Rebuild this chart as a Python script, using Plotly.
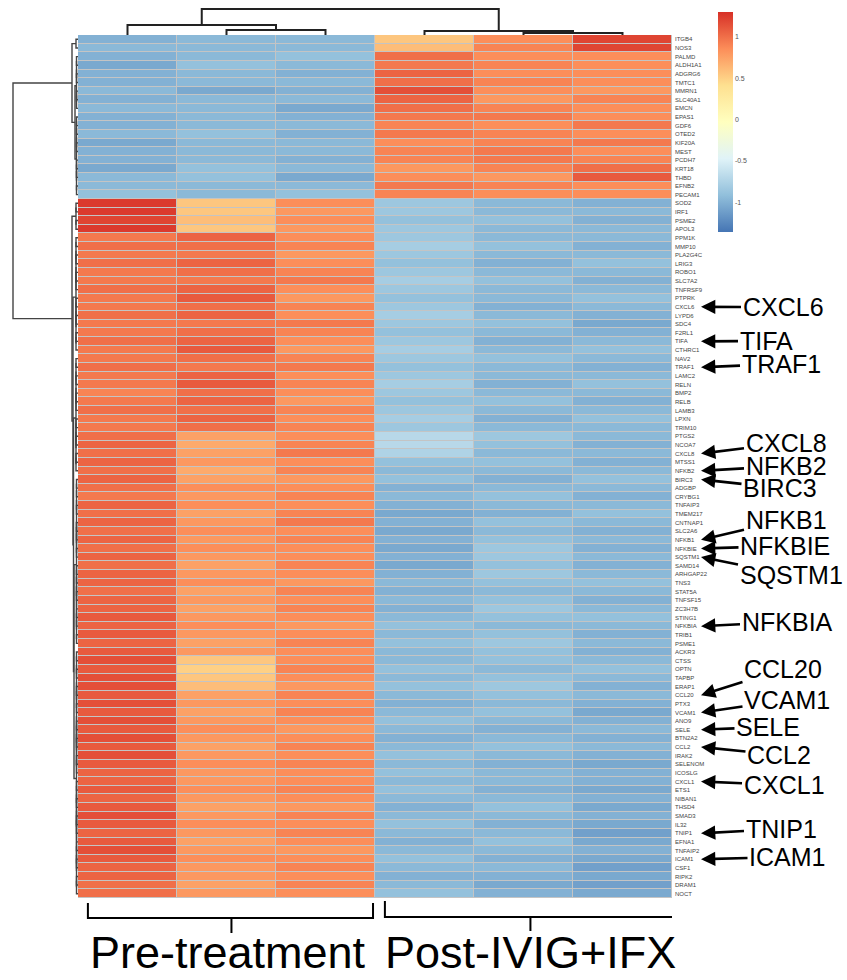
import plotly.graph_objects as go

W, H = 847, 980

genes = ["ITGB4","NOS3","PALMD","ALDH1A1","ADGRG6","TMTC1","MMRN1","SLC40A1","EMCN","EPAS1",
         "GDF6","OTED2","KIF20A","MEST","PCDH7","KRT18","THBD","EFNB2","PECAM1",
         "SOD2","IRF1","PSME2","APOL3","PPM1K","MMP10","PLA2G4C","LRIG3","ROBO1","SLC7A2",
         "TNFRSF9","PTPRK","CXCL6","LYPD6","SDC4","F2RL1","TIFA","CTHRC1","NAV2","TRAF1",
         "LAMC2","RELN","BMP2","RELB","LAMB3","LPXN","TRIM10","PTGS2","NCOA7","CXCL8",
         "MTSS1","NFKB2","BIRC3","ADGBP","CRYBG1","TNFAIP3","TMEM217","CNTNAP1","SLC2A6","NFKB1",
         "NFKBIE","SQSTM1","SAMD14","ARHGAP22","TNS3","STAT5A","TNFSF15","ZC3H7B","STING1","NFKBIA",
         "TRIB1","PSME1","ACKR3","CTSS","OPTN","TAPBP","ERAP1","CCL20","PTX3","VCAM1",
         "ANO9","SELE","BTN2A2","CCL2","IRAK2","SELENOM","ICOSLG","CXCL1","ETS1","NIBAN1",
         "THSD4","SMAD3","IL32","TNIP1","EFNA1","TNFAIP2","ICAM1","CSF1","RIPK2","DRAM1","NOCT"]

samples = ["Pre1", "Pre2", "Pre3", "Post1", "Post2", "Post3"]

pre1 = [-1.0,-0.95,-1.0,-1.05,-1.0,-1.0,-0.95,-1.0,-0.95,-1.0,-1.0,-0.95,-1.05,-1.0,-1.0,-1.05,-0.95,-0.95,-0.9,
        1.25,1.25,1.2,1.25,
        0.95,1.0,0.95,1.0,0.95,0.95,1.0,0.95,0.95,1.0,0.95,0.95,1.0,0.95,0.95,1.0,0.95,0.95,0.9,0.95,1.0,0.95,0.95,
        1.0,1.05,1.0,1.05,1.0,1.05,1.0,0.95,1.05,1.0,1.05,1.0,1.05,1.0,
        1.05,1.0,1.05,1.05,1.0,1.05,1.05,1.1,1.05,1.1,1.05,1.1,
        1.15,1.1,1.15,1.15,1.1,1.15,1.1,1.15,1.1,1.15,1.1,1.15,1.1,1.05,
        1.05,1.1,1.05,1.1,1.15,1.1,1.05,1.1,1.15,1.1,1.05,1.05,1.0,1.0]
pre2 = [-0.95,-0.95,-0.95,-0.9,-0.95,-0.95,-1.05,-0.95,-0.95,-0.95,-0.95,-0.9,-0.95,-0.95,-0.95,-0.9,-0.9,-0.95,-0.95,
        0.55,0.55,0.6,0.55,
        1.05,1.0,0.95,1.05,1.0,0.95,1.05,1.1,1.0,1.05,0.95,1.0,1.05,1.1,1.0,0.95,1.05,1.1,1.0,1.05,1.0,1.05,1.0,
        0.75,0.7,0.75,0.8,0.7,0.75,0.85,0.8,0.85,0.75,0.8,0.85,0.8,0.85,
        0.8,0.75,0.8,0.85,0.75,0.8,0.75,0.8,0.85,0.8,0.75,0.8,
        0.55,0.5,0.55,0.6,0.75,0.8,0.75,0.8,0.85,0.8,0.75,0.8,0.85,0.8,
        0.8,0.85,0.8,0.75,0.8,0.85,0.8,0.75,0.8,0.85,0.8,0.8,0.75,0.8]
pre3 = [-0.95,-0.95,-0.9,-0.95,-1.0,-0.95,-1.0,-0.95,-1.05,-1.0,-0.95,-1.0,-0.95,-0.95,-1.0,-0.95,-1.05,-0.95,-0.9,
        0.85,0.8,0.85,0.8,
        0.85,0.9,0.8,0.85,0.9,0.95,0.85,0.8,0.9,0.85,0.95,0.9,0.85,0.8,0.9,0.95,0.85,0.9,0.85,0.8,0.9,0.85,0.9,
        0.85,0.9,0.95,0.85,0.9,0.8,0.85,0.9,0.85,0.9,0.95,0.85,0.9,0.85,
        0.85,0.9,0.85,0.8,0.9,0.85,0.9,0.85,0.8,0.85,0.9,0.85,
        0.85,0.9,0.85,0.8,0.9,0.85,0.9,0.85,0.8,0.85,0.9,0.85,0.9,0.85,
        0.85,0.9,0.85,0.8,0.9,0.85,0.9,0.85,0.8,0.85,0.9,0.85,0.9,0.85]
post1 = [0.55,0.6,1.0,0.95,1.05,1.0,1.15,1.05,1.0,0.95,0.9,0.95,0.85,0.9,0.9,0.8,0.85,0.95,0.9,
         -0.85,-0.85,-0.9,-0.85,
         -0.85,-0.8,-0.85,-0.9,-0.85,-0.8,-0.85,-0.9,-0.85,-0.8,-0.85,-0.9,-0.85,-0.8,-0.85,-0.9,-0.85,-0.8,-0.85,-0.9,-0.85,-0.8,-0.85,
         -0.7,-0.7,-0.75,-0.9,-0.95,-0.9,-1.0,-0.95,-1.0,-1.05,-1.0,-1.05,-1.0,-1.05,
         -1.0,-1.05,-1.0,-0.95,-1.0,-0.95,-1.0,-0.95,-0.9,-0.95,-0.9,-0.95,
         -0.95,-0.9,-0.95,-0.9,-0.95,-1.0,-0.95,-0.9,-0.95,-1.0,-0.95,-0.9,-0.95,-0.9,
         -0.95,-0.9,-0.95,-1.0,-0.95,-0.9,-0.95,-1.0,-0.95,-0.9,-0.95,-1.0,-0.95,-0.9]
post2 = [0.85,0.9,0.85,0.9,0.85,0.9,0.85,0.8,0.9,0.95,0.85,0.9,0.9,0.95,0.95,0.9,0.8,0.9,0.85,
         -0.95,-0.95,-0.9,-0.95,
         -0.95,-0.9,-0.95,-1.0,-0.95,-0.9,-0.95,-0.95,-1.0,-0.95,-0.9,-0.95,-1.0,-0.95,-0.9,-0.95,-0.95,-1.0,-0.95,-0.9,-0.95,-1.0,-0.95,
         -0.85,-0.9,-0.95,-0.9,-0.95,-1.0,-0.95,-0.9,-0.95,-1.0,-0.9,-0.95,-0.9,-0.85,
         -0.85,-0.9,-0.85,-0.9,-0.95,-0.9,-0.85,-0.9,-0.95,-0.9,-0.85,-0.9,
         -0.9,-0.95,-0.9,-0.85,-0.9,-0.95,-0.9,-0.95,-1.0,-0.95,-0.9,-0.95,-1.0,-0.95,
         -0.95,-1.0,-0.95,-0.9,-0.95,-1.0,-0.95,-0.9,-0.95,-1.0,-0.95,-1.0,-1.05,-1.0]
post3 = [1.2,1.2,0.85,0.85,0.85,0.85,0.8,0.9,0.85,0.85,0.95,0.85,0.95,0.85,0.9,1.0,1.1,0.85,0.85,
         -1.0,-0.95,-1.0,-0.95,
         -0.95,-1.0,-0.95,-0.9,-0.95,-1.0,-0.95,-0.9,-0.95,-1.0,-1.05,-1.0,-0.95,-0.9,-0.95,-1.0,-0.95,-0.9,-0.95,-1.0,-0.95,-0.9,-0.95,
         -0.95,-1.0,-0.95,-1.0,-0.95,-0.9,-0.95,-1.0,-0.95,-0.9,-0.95,-1.0,-0.95,-1.0,
         -0.95,-1.0,-0.95,-0.9,-0.95,-1.0,-0.95,-0.9,-0.95,-1.0,-0.95,-1.0,
         -0.95,-0.9,-0.95,-1.0,-0.95,-1.0,-1.05,-1.0,-0.95,-1.0,-0.95,-1.0,-1.05,-1.0,
         -1.0,-1.05,-1.0,-1.05,-1.0,-1.05,-1.1,-1.05,-1.0,-1.05,-1.1,-1.05,-1.1,-1.05]

columns = [pre1, pre2, pre3, post1, post2, post3]
n_rows = len(genes)
z = [[col[i] for col in columns] for i in range(n_rows)]

# Column dendrogram: (height, left, right); leaves are column indices
col_tree = (26, (10, 0, (5, 1, 2)), (4, 3, (2, 4, 5)))

def grp(a, b, h):
    if a == b:
        return a
    m = (a + b) // 2
    return (h, grp(a, m, h), grp(m + 1, b, h))

# Row dendrogram (heights in px distance from heatmap edge)
row_tree = (65,
            (6, (2, 0, 1), (3, grp(2, 8, 1.5), grp(9, 18, 1.5))),
            (6, grp(19, 22, 2),
                (5, grp(23, 36, 2),
                    (4.5, grp(37, 50, 2), (4, grp(51, 70, 1.5), grp(71, 99, 1.5))))))

def segs(node, xs, ys):
    if isinstance(node, int):
        return float(node), 0.0
    h, l, r = node
    p1, h1 = segs(l, xs, ys)
    p2, h2 = segs(r, xs, ys)
    xs += [p1, p1, p2, p2, None]
    ys += [h1, h, h, h2, None]
    return (p1 + p2) / 2, h

cx, cy = [], []
segs(col_tree, cx, cy)
rx, ry = [], []
segs(row_tree, rx, ry)

colorscale = [[0.0, "#4575B4"], [1/6, "#91BFDB"], [2/6, "#E0F3F8"], [3/6, "#FFFFBF"],
              [4/6, "#FEE090"], [5/6, "#FC8D59"], [1.0, "#D73027"]]

hx0, hx1 = 78 / W, 672 / W
hy0, hy1 = 1 - 898 / H, 1 - 35 / H

fig = go.Figure()
fig.add_trace(go.Heatmap(
    z=z, x=list(range(6)), y=list(range(n_rows)),
    colorscale=colorscale, zmin=-1.36, zmax=1.30, xgap=1, ygap=1,
    hoverinfo="skip",
    colorbar=dict(x=718 / W, xanchor="left", y=1 - 122 / H, yanchor="middle",
                  len=220 / H, lenmode="fraction", thickness=15, outlinewidth=0,
                  xpad=0, ypad=0, ticks="", tickvals=[-1, -0.5, 0, 0.5, 1],
                  ticktext=["-1", "-0.5", "0", "0.5", "1"],
                  tickfont=dict(size=7, color="#555", family="Liberation Sans, Arial"))))

# Column dendrogram: x = column positions, y = height
fig.add_trace(go.Scatter(x=cx, y=cy, mode="lines", xaxis="x", yaxis="y3",
                         line=dict(color="#222", width=2), hoverinfo="skip", showlegend=False))
# Row dendrogram: x = height, y = row positions
fig.add_trace(go.Scatter(x=ry, y=rx, mode="lines", xaxis="x3", yaxis="y",
                         line=dict(color="#444", width=1.4), hoverinfo="skip", showlegend=False))

fig.update_layout(
    width=W, height=H, margin=dict(l=0, r=0, t=0, b=0),
    paper_bgcolor="white", plot_bgcolor="rgba(0,0,0,0)",
    font=dict(family="Liberation Sans, Arial, sans-serif", color="black"),
    xaxis=dict(domain=[hx0, hx1], range=[-0.5, 5.5], showticklabels=False, showgrid=False,
               zeroline=False, ticks="", anchor="y"),
    yaxis=dict(domain=[hy0, hy1], range=[n_rows - 0.5, -0.5], side="right",
               tickvals=list(range(n_rows)), ticktext=genes, ticks="", ticklabelstandoff=2,
               tickfont=dict(size=6, color="#444"), showgrid=False, zeroline=False, anchor="x"),
    xaxis3=dict(domain=[0, hx0], range=[78, 0], visible=False, anchor="y"),
    yaxis3=dict(domain=[hy1, 1], range=[0, 35], visible=False, anchor="x"),
)

# grey cell borders behind heatmap
fig.add_shape(type="rect", xref="x", yref="y", x0=-0.5, x1=5.5, y0=-0.5, y1=n_rows - 0.5,
              fillcolor="#c4c4c4", line=dict(width=0), layer="below")

# Group brackets
def py(p):
    return 1 - p / H

def bracket(xl, xr, xc, top, mid, tip):
    path = (f"M {xl},{py(top)} L {xl},{py(mid)} L {xr},{py(mid)} L {xr},{py(top)} "
            f"M {xc},{py(mid)} L {xc},{py(tip)}")
    fig.add_shape(type="path", xref="x", yref="paper", path=path,
                  line=dict(color="black", width=2))

bracket(-0.4, 2.48, 1.05, 903, 918, 933)
bracket(2.6, 5.53, 4.07, 901, 917, 931)

groups = ["Pre-treatment", "Post-IVIG+IFX"]
group_centers = [1.02, 4.07]
for g, c in zip(groups, group_centers):
    fig.add_annotation(text=g, x=c, xref="x", y=py(979), yref="paper", showarrow=False,
                       xanchor="center", yanchor="bottom", borderpad=0,
                       font=dict(size=45, family="Liberation Sans, Arial", color="black"))

# Highlighted genes with arrows: (gene, text centre x px, text centre y px)
highlights = [("CXCL6", 783, 307), ("TIFA", 766, 341), ("TRAF1", 781, 364),
              ("CXCL8", 786, 443), ("NFKB2", 786, 466), ("BIRC3", 780, 488),
              ("NFKB1", 786, 520), ("NFKBIE", 785, 546), ("SQSTM1", 791, 575),
              ("NFKBIA", 787, 622), ("CCL20", 783, 669), ("VCAM1", 787, 700),
              ("SELE", 768, 727), ("CCL2", 779, 755), ("CXCL1", 784, 785),
              ("TNIP1", 781, 829), ("ICAM1", 787, 857)]
row_h = (898 - 35) / n_rows
head_x = 701
for g, tx, ty in highlights:
    i = genes.index(g)
    row_px = 35 + (i + 0.5) * row_h
    fig.add_annotation(text=g, x=head_x / W, xref="paper", y=i, yref="y",
                       ax=tx - head_x, ay=ty - row_px, showarrow=True,
                       arrowhead=2, arrowsize=1.1, arrowwidth=2.6, arrowcolor="black",
                       font=dict(size=25, family="Liberation Sans, Arial", color="black"))

fig.write_html("out.html", config={"displayModeBar": False},
               post_script="document.body.style.margin='0';document.body.style.overflow='hidden';")
